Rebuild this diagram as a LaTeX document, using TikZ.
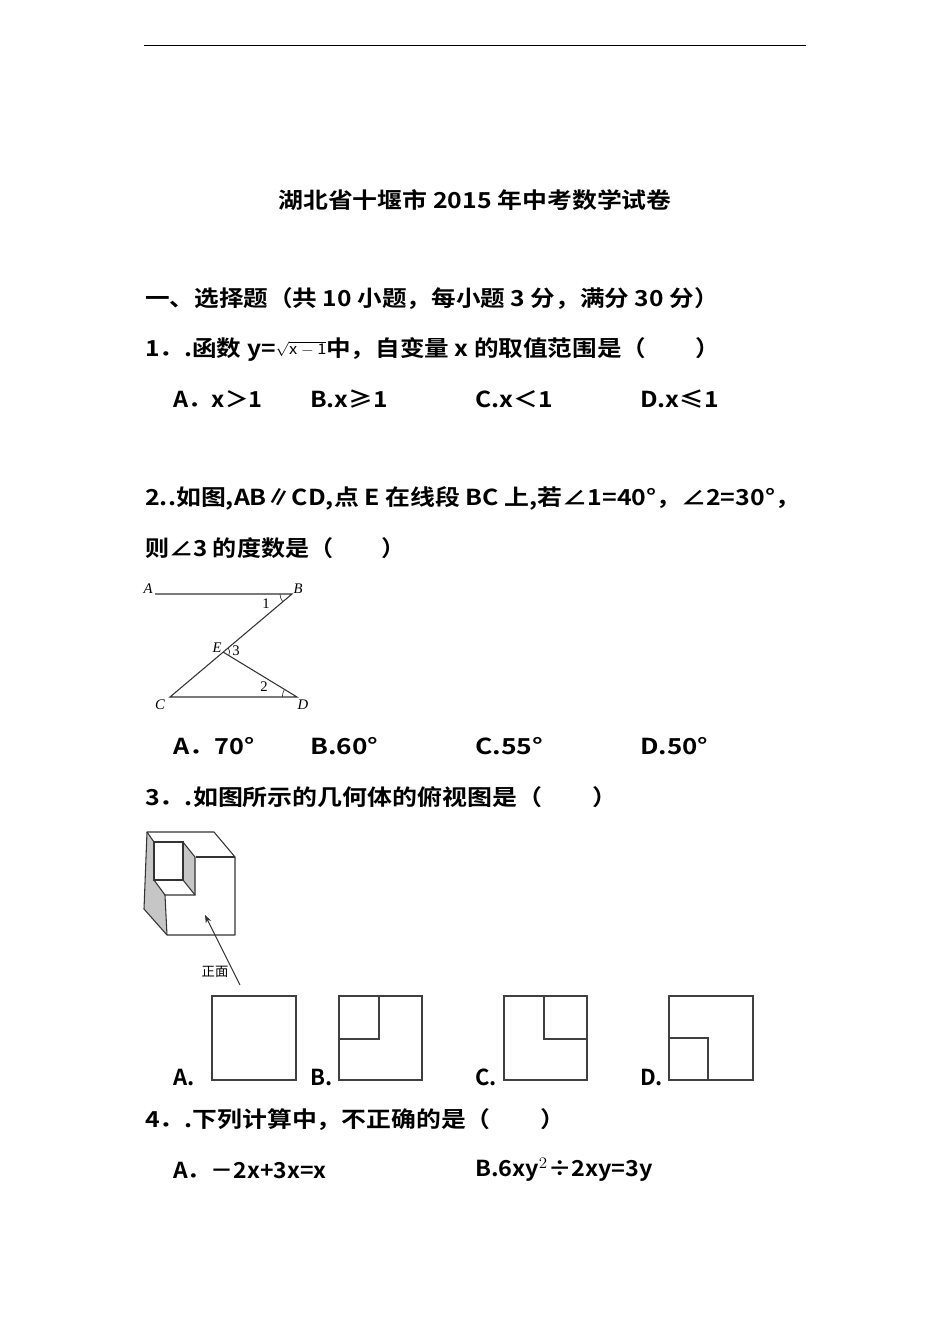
\documentclass[tikz,border=0pt]{standalone}
\usepackage{fontspec}
\usetikzlibrary{calc,arrows.meta}
\setmainfont{Noto Sans CJK SC}[BoldFont={* Bold}]
\newfontfamily\figfont{Liberation Serif}[ItalicFont={* Italic}]
\newcommand\fitw[2]{\resizebox{#1}{\height}{#2}}
\begin{document}
\begin{tikzpicture}[x=0.75pt,y=-0.75pt,
 tx/.style={anchor=west,inner sep=0,font=\fontsize{16.5}{18}\selectfont\bfseries},
 fl/.style={inner sep=0,font=\figfont\fontsize{11}{12}\selectfont\itshape},
 fn/.style={inner sep=0,font=\figfont\fontsize{11}{12}\selectfont},
 ln/.style={line width=0.8pt,black!80},
 box/.style={draw,line width=0.9pt,black!75}]
\useasboundingbox (0,0) rectangle (950,1344);
\fill[white] (0,0) rectangle (950,1344);
\draw[line width=0.6pt] (144,45) -- (806,45);
\node[tx,anchor=center] (title) at (475,200) {\fitw{295pt}{湖北省十堰市 2015 年中考数学试卷}};
\node[tx] (s1) at (145,299) {\fitw{430pt}{一、选择题（共 10 小题，每小题 3 分，满分 30 分）}};
\node[tx] (q1) at (145,349) {\fitw{431pt}{1．.函数 y=\raisebox{0.1ex}{\normalfont\fontsize{11}{12}\selectfont\figfont$\sqrt{\mathrm{x-1}}$}中，自变量 x 的取值范围是（\hspace{2em}）}};
\node[tx] (q1a) at (173,399) {\fitw{67pt}{A．x＞1}};
\node[tx] (q1b) at (310,399) {\fitw{58pt}{B.x≥1}};
\node[tx] (q1c) at (475,399) {\fitw{58pt}{C.x＜1}};
\node[tx] (q1d) at (640,399) {\fitw{59pt}{D.x≤1}};
\node[tx] (q2) at (145,498) {\fitw{491pt}{2..如图,AB∥CD,点 E 在线段 BC 上,若∠1=40°，∠2=30°，}};
\node[tx] (q2b) at (145,548) {\fitw{195pt}{则∠3 的度数是（\hspace{2em}）}};
% figure Q2
\coordinate (A) at (155,594); \coordinate (B) at (292,594);
\coordinate (C) at (170,697); \coordinate (D) at (297,697);
\coordinate (E) at (223,652);
\draw[ln] (A) -- (B) -- (C) -- (D) -- (E);
\draw[ln,line width=0.5pt] ([xshift=-9pt]B) arc (180:220:9pt);
\draw[ln,line width=0.5pt] ([xshift=-11pt]D) arc (180:149:11pt);
\draw[ln,line width=0.5pt] ($(E)+(-31:5pt)$) arc (-31:40:5pt);
\node[fl] (lA) at (148,589) {A};
\node[fl] (lB) at (298,589) {B};
\node[fn] (l1) at (266,604) {1};
\node[fl] (lE) at (217,648) {E};
\node[fn] (l3) at (236,651) {3};
\node[fn] (l2) at (264,687) {2};
\node[fl] (lC) at (160,705) {C};
\node[fl] (lD) at (303,705) {D};
\node[tx] (q2a) at (173,746) {\fitw{61pt}{A．70°}};
\node[tx] (q2bb) at (310,746) {\fitw{51pt}{B.60°}};
\node[tx] (q2c) at (475,746) {\fitw{51pt}{C.55°}};
\node[tx] (q2d) at (640,746) {\fitw{51pt}{D.50°}};
\node[tx] (q3) at (145,797) {\fitw{354pt}{3．.如图所示的几何体的俯视图是（\hspace{2em}）}};
% figure Q3
\fill[gray!45] (147,832) -- (144,909) -- (167,935) -- (165,895) -- (154,880) -- (154,842) -- cycle;
\fill[gray!45] (183,842) -- (195,857) -- (195,895) -- (183,880) -- cycle;
\draw[ln,line join=round] (147,832) -- (214,832) -- (235,857) -- (235,935) -- (167,935) -- (144,909) -- cycle;
\draw[ln] (196,857) -- (235,857);
\draw[ln] (154,842) -- (183,842) -- (183,880) -- (154,880) -- cycle;
\draw[ln] (183,842) -- (195,857) -- (195,895) -- (165,895) -- (154,880);
\draw[ln] (183,880) -- (195,895);
\draw[ln] (165,895) -- (167,935);
\draw[ln] (147,832) -- (154,842);
\coordinate (ar1) at (240,985); \coordinate (ar2) at (205,915);
\draw[ln,-{Stealth[length=6pt]}] (ar1) -- (ar2);
\node[inner sep=0,font=\fontsize{10}{11}\selectfont] (zm) at (215,972) {正面};
% option boxes
\draw[box] (212,996) rectangle (296,1080);
\draw[box] (339,996) rectangle (422,1080);
\draw[box] (379,996) -- (379,1039) -- (339,1039);
\draw[box] (504,996) rectangle (587,1080);
\draw[box] (544,996) -- (544,1039) -- (587,1039);
\draw[box] (669,996) rectangle (753,1080);
\draw[box] (669,1038) -- (708,1038) -- (708,1080);
\node[tx] (o3a) at (173,1077) {A.};
\node[tx] (o3b) at (310,1077) {B.};
\node[tx] (o3c) at (475,1077) {C.};
\node[tx] (o3d) at (640,1077) {D.};
\node[tx] (q4) at (145,1120) {\fitw{315pt}{4．.下列计算中，不正确的是（\hspace{2em}）}};
\node[tx] (q4a) at (173,1170) {\fitw{115pt}{A．－2x+3x=x}};
\node[tx] (q4b) at (475,1170) {\fitw{133pt}{B.6xy$^2$÷2xy=3y}};
\end{tikzpicture}
\end{document}
